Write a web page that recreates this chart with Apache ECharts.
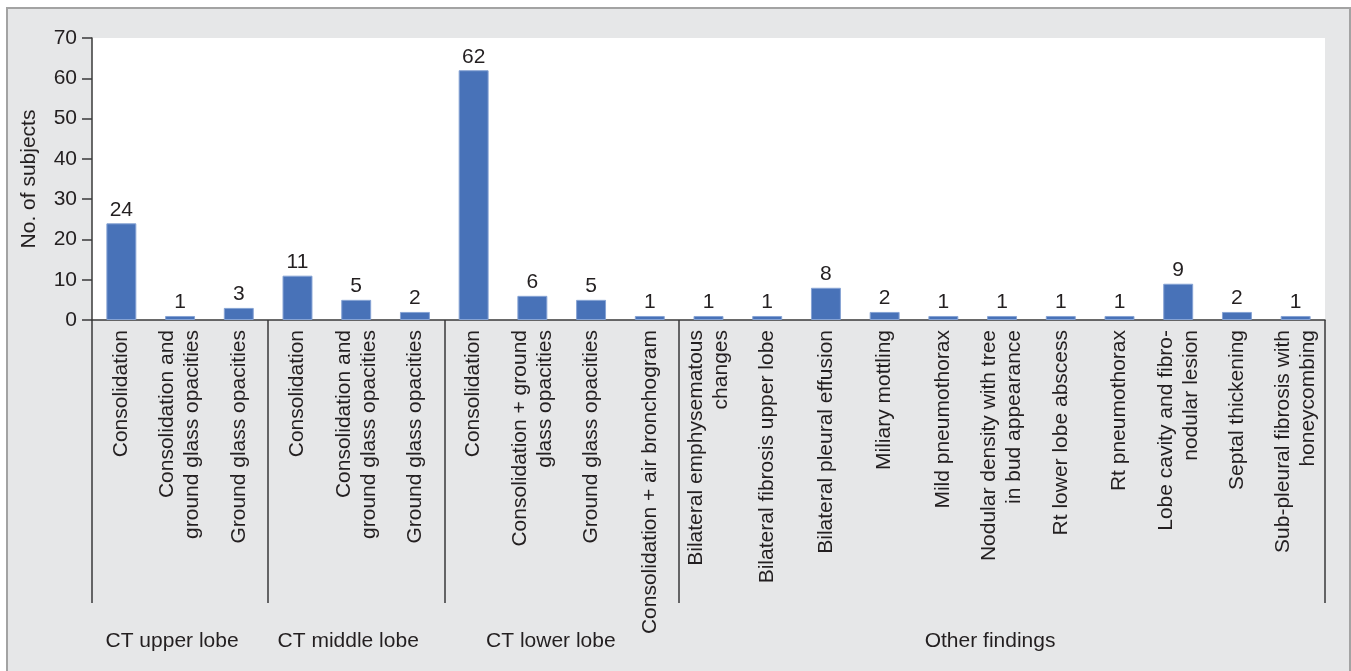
<!DOCTYPE html>
<html>
<head>
<meta charset="utf-8">
<script src="https://cdn.jsdelivr.net/npm/echarts@6/dist/echarts.min.js"></script>
<style>
  html, body { margin: 0; padding: 0; background: #ffffff; }
  #frame { position: absolute; left: 6px; top: 7px; width: 1341px; height: 680px; border: 2px solid #a3a3a3; background: #e6e7e8; }
  #myChart { position: absolute; left: 0; top: 0; width: 1351px; height: 671px; }
</style>
</head>
<body>
<div id="frame"></div>
<div id="myChart"></div>
<script>
// categories as printed under the bars
var categories = [
  'Consolidation',
  'Consolidation and\nground glass opacities',
  'Ground glass opacities',
  'Consolidation',
  'Consolidation and\nground glass opacities',
  'Ground glass opacities',
  'Consolidation',
  'Consolidation + ground\nglass opacities',
  'Ground glass opacities',
  'Consolidation + air bronchogram',
  'Bilateral emphysematous\nchanges',
  'Bilateral fibrosis upper lobe',
  'Bilateral pleural effusion',
  'Miliary mottling',
  'Mild pneumothorax',
  'Nodular density with tree\nin bud appearance',
  'Rt lower lobe abscess',
  'Rt pneumothorax',
  'Lobe cavity and fibro-\nnodular lesion',
  'Septal thickening',
  'Sub-pleural fibrosis with\nhoneycombing'
]
var subjects = [24, 1, 3, 11, 5, 2, 62, 6, 5, 1, 1, 1, 8, 2, 1, 1, 1, 1, 9, 2, 1]

// groups: name, first category index, number of categories
var groupNames = ['CT upper lobe', 'CT middle lobe', 'CT lower lobe', 'Other findings']
var groupStarts = [0, 3, 6, 10]
var groupSizes = [3, 3, 4, 11]
// small horizontal nudge of each group label (px), as in the printed figure
var groupNudge = [-8, -8, -11, -12]

var yTicks = [0, 10, 20, 30, 40, 50, 60, 70]

var textColor = '#231f20'
var lineColor = '#3a3a3a'
var fontFamily = '"Liberation Sans", Arial, Helvetica, sans-serif'
var fs = 21

// label sits on the middle category of each group
var groupLabelAt = {}
for (var g = 0; g < groupNames.length; g++) {
  var mid = groupStarts[g] + (groupSizes[g] - 1) / 2
  var cellW = (1351 - 92 - 26) / categories.length
  var shift = (mid % 1) * cellW + groupNudge[g]
  groupLabelAt[Math.floor(mid)] = { name: groupNames[g], pad: Math.round(shift * 2) }
}

var rich = {}
Object.keys(groupLabelAt).forEach(function (k) {
  var p = groupLabelAt[k].pad
  rich['g' + k] = {
    fontSize: fs,
    color: textColor,
    fontFamily: fontFamily,
    padding: p >= 0 ? [0, 0, 0, p] : [0, -p, 0, 0]
  }
})

var myChart = echarts.init(document.getElementById('myChart'))
myChart.setOption({
  backgroundColor: 'transparent',
  textStyle: { fontFamily: fontFamily },
  grid: {
    left: 92,
    right: 26,
    top: 38,
    bottom: 351,
    show: true,
    backgroundColor: '#ffffff',
    borderWidth: 0
  },
  xAxis: [
    {
      type: 'category',
      data: categories,
      axisLine: { lineStyle: { color: lineColor, width: 1.5 } },
      axisTick: { show: false },
      axisLabel: {
        interval: 0,
        rotate: 90,
        margin: 10,
        fontSize: fs,
        lineHeight: 25,
        color: textColor,
        fontFamily: fontFamily
      }
    },
    {
      type: 'category',
      position: 'bottom',
      data: categories,
      axisLine: { show: false },
      axisTick: {
        show: true,
        length: 283,
        interval: function (index) {
          return groupStarts.indexOf(index) !== -1
        },
        lineStyle: { color: lineColor, width: 1.5 }
      },
      axisLabel: {
        interval: function (index) {
          return groupLabelAt[index] !== undefined
        },
        margin: 311,
        fontSize: fs,
        color: textColor,
        fontFamily: fontFamily,
        formatter: function (value, index) {
          var item = groupLabelAt[index]
          if (!item) return ''
          return '{g' + index + '|' + item.name + '}'
        },
        rich: rich
      }
    }
  ],
  yAxis: {
    type: 'value',
    min: yTicks[0],
    max: yTicks[yTicks.length - 1],
    interval: 10,
    name: 'No. of subjects',
    nameLocation: 'middle',
    nameGap: 52,
    nameTextStyle: { fontSize: fs, color: textColor, fontFamily: fontFamily },
    axisLine: { show: true, lineStyle: { color: lineColor, width: 1.5 } },
    axisTick: { show: true, length: 10, lineStyle: { color: lineColor, width: 1.5 } },
    splitLine: { show: false },
    axisLabel: { margin: 15, fontSize: fs, color: textColor, fontFamily: fontFamily }
  },
  series: [
    {
      name: 'No. of subjects',
      type: 'bar',
      data: subjects,
      barWidth: '51%',
      itemStyle: { color: '#4872b8', borderColor: '#86a3d4', borderWidth: 1 },
      label: {
        show: true,
        position: 'top',
        distance: 3,
        fontSize: fs,
        color: textColor,
        fontFamily: fontFamily
      }
    }
  ]
})
</script>
</body>
</html>
